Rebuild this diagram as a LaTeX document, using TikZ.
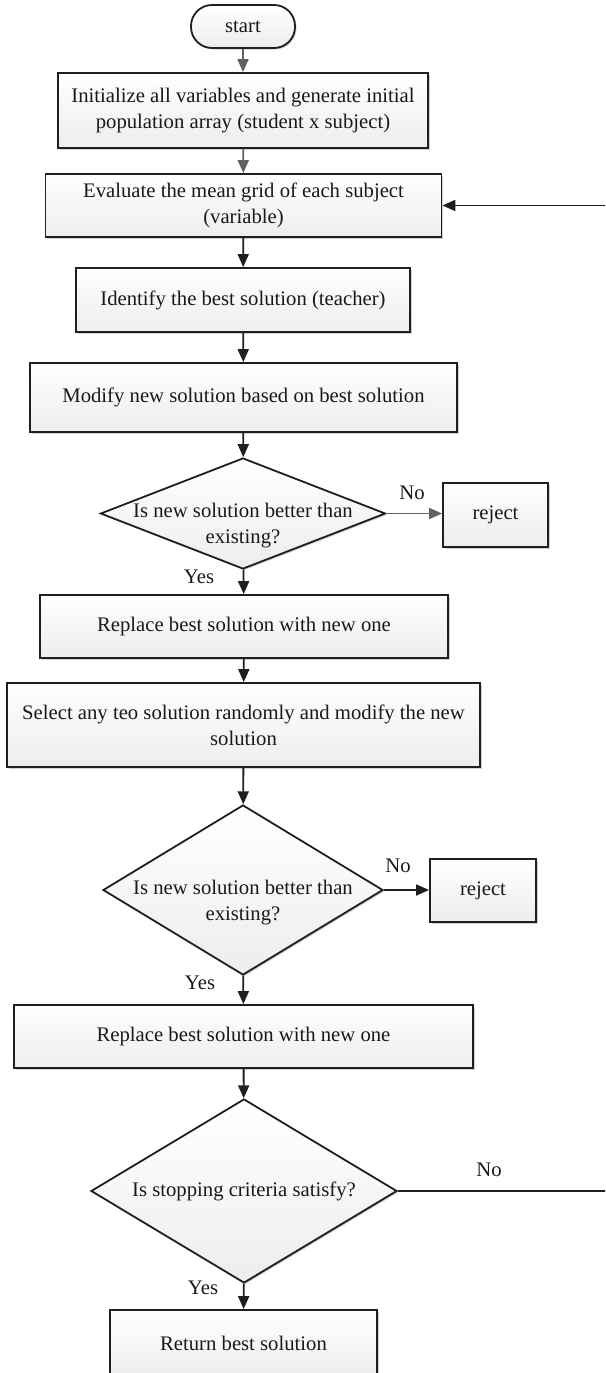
\documentclass[tikz,border=0pt]{standalone}
\usepackage{fontspec}
\setmainfont{Liberation Serif}
\usetikzlibrary{arrows.meta,shapes.geometric,shadows}

\begin{document}
\begin{tikzpicture}[x=1pt,y=-1pt,
  every node/.style={font=\fontsize{20.7}{26}\selectfont, text=black!90},
  shapebase/.style={draw=black!88, line width=1.8pt, top color=white, bottom color=black!7,
    drop shadow={shadow xshift=1.5pt, shadow yshift=-1.5pt, opacity=0.18, fill=black},
    inner sep=0pt, align=center},
  procbox/.style={shapebase, rectangle},
  termbox/.style={shapebase, rectangle, rounded corners=21pt},
  decision/.style={shapebase, diamond},
  dtext/.style={align=center, inner sep=0pt},
  lbl/.style={inner sep=0pt},
  flow/.style={line width=1.8pt, draw=black!88, -{Triangle[length=13pt,width=11pt]}},
  greyflow/.style={line width=1.8pt, draw=black!62, -{Triangle[length=13pt,width=11pt]}}
]
\useasboundingbox (0,0) rectangle (605,1373);
\clip (0,0) rectangle (605,1373);

% main column of steps
\node[termbox, minimum width=104pt, minimum height=43pt] (start) at (243,26.5) {start};
\node[procbox, minimum width=370pt, minimum height=75pt] (init) at (243,110.5)
  {Initialize all variables and generate initial\\population array (student x subject)};
\node[procbox, minimum width=396pt, minimum height=63pt] (eval) at (243.5,205.5)
  {Evaluate the mean grid of each subject\\(variable)};
\node[procbox, minimum width=334pt, minimum height=64pt] (teach) at (243,300)
  {Identify the best solution (teacher)};
\node[procbox, minimum width=427pt, minimum height=69pt] (modify) at (243.5,397.5)
  {Modify new solution based on best solution};

% first comparison
\node[decision, minimum width=285pt, minimum height=111pt] (dec1) at (243,513.5) {};
\node[dtext] (dec1t) at (243,526) {Is new solution better than\\existing?};
\node[procbox, minimum width=105pt, minimum height=64pt] (rej1) at (495.5,515) {reject};

\node[procbox, minimum width=408pt, minimum height=63pt] (repl1) at (244,626.5)
  {Replace best solution with new one};
\node[procbox, minimum width=473pt, minimum height=84pt] (select) at (243.5,725)
  {Select any teo solution randomly and modify the new\\solution};

% second comparison
\node[decision, minimum width=280pt, minimum height=170pt] (dec2) at (243,890) {};
\node[dtext] (dec2t) at (243,903) {Is new solution better than\\existing?};
\node[procbox, minimum width=106pt, minimum height=63pt] (rej2) at (483,890.5) {reject};

\node[procbox, minimum width=459pt, minimum height=63pt] (repl2) at (243.5,1036.5)
  {Replace best solution with new one};

% stopping test
\node[decision, minimum width=306pt, minimum height=184pt] (stop) at (244,1191) {};
\node[dtext] (stopt) at (244,1191) {Is stopping criteria satisfy?};
\node[procbox, minimum width=267pt, minimum height=66pt] (ret) at (243.5,1343)
  {Return best solution};

% branch labels
\node[lbl] (no1) at (412,493) {No};
\node[lbl] (yes1) at (199,577) {Yes};
\node[lbl] (no2) at (398,866) {No};
\node[lbl] (yes2) at (200,983) {Yes};
\node[lbl] (no3) at (489,1170) {No};
\node[lbl] (yes3) at (203,1288) {Yes};

% connectors
\draw[greyflow] (start) -- (init);
\draw[greyflow] (init) -- (eval);
\draw[flow] (eval) -- (teach);
\draw[flow] (teach) -- (modify);
\draw[flow] (modify) -- (dec1);
\draw[greyflow] (dec1.east) -- (dec1.east -| rej1.west);
\draw[flow] (dec1) -- (repl1);
\draw[flow] (repl1) -- (select);
\draw[flow] (select) -- (dec2);
\draw[flow] (dec2.east) -- (dec2.east -| rej2.west);
\draw[flow] (dec2) -- (repl2);
\draw[flow] (repl2) -- (stop);
\draw[flow] (stop) -- (ret);

% loop back from the stopping test to the evaluation step
\coordinate (loopR) at (612,0);
\draw[flow] (stop.east) -- (stop.east -| loopR) |- (eval.east);
\end{tikzpicture}
\end{document}
